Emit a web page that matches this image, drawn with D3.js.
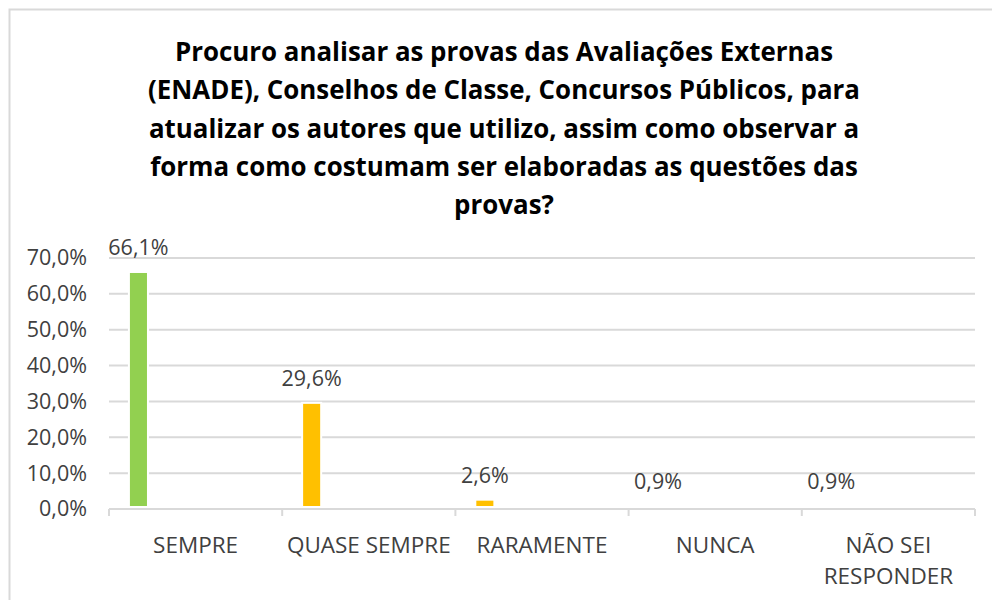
<!DOCTYPE html>
<html>
<head>
<meta charset="utf-8">
<script src="https://cdn.jsdelivr.net/npm/d3@7"></script>
<style>
  body { margin: 0; background: #fff; }
  text { font-family: "Open Sans", "Noto Sans", sans-serif; }
</style>
</head>
<body>
<div id="chart"></div>
<script>
// chart data
const titleLines = [
    "Procuro analisar as provas das Avaliações Externas",
    "(ENADE), Conselhos de Classe, Concursos Públicos, para",
    "atualizar os autores que utilizo, assim como observar a",
    "forma como costumam ser elaboradas as questões das",
    "provas?"
];
const categories = ["SEMPRE", "QUASE SEMPRE", "RARAMENTE", "NUNCA", "NÃO SEI RESPONDER"];
const categoryLines = [["SEMPRE"], ["QUASE SEMPRE"], ["RARAMENTE"], ["NUNCA"], ["NÃO SEI", "RESPONDER"]];
const values = [66.1, 29.6, 2.6, 0.9, 0.9];
const valueLabels = ["66,1%", "29,6%", "2,6%", "0,9%", "0,9%"];
const barColors = ["#92D050", "#FFC000", "#FFC000", "#FFFFFF", "#FFFFFF"];
const yTicks = [0, 10, 20, 30, 40, 50, 60, 70];

const W = 992, H = 600;
const plot = { left: 109, right: 975, top: 258, bottom: 509 };

const svg = d3.select("#chart").append("svg")
    .attr("width", W)
    .attr("height", H);

// chart border (only top & left visible in the crop)
svg.append("rect")
    .attr("x", 9.5).attr("y", 9.5)
    .attr("width", W + 20).attr("height", H + 20)
    .attr("fill", "#fff")
    .attr("stroke", "#d9d9d9")
    .attr("stroke-width", 2);

// title
svg.append("text")
    .attr("text-anchor", "middle")
    .attr("font-weight", "bold")
    .attr("font-size", 25.9)
    .attr("fill", "#000")
    .selectAll("tspan")
    .data(titleLines)
    .join("tspan")
    .attr("x", 504)
    .attr("y", (d, i) => 61 + i * 38.3)
    .text(d => d);

const x = d3.scaleBand()
    .domain(categories)
    .range([plot.left, plot.right]);

const y = d3.scaleLinear()
    .domain([0, 70])
    .range([plot.bottom, plot.top]);

// gridlines
svg.append("g")
    .selectAll("line")
    .data(yTicks.filter(d => d > 0))
    .join("line")
    .attr("x1", plot.left).attr("x2", plot.right)
    .attr("y1", d => y(d)).attr("y2", d => y(d))
    .attr("stroke", "#d9d9d9")
    .attr("stroke-width", 2);

// y axis labels
const yAxis = d3.axisLeft(y)
    .tickValues(yTicks)
    .tickSize(0)
    .tickPadding(22)
    .tickFormat(d => d3.format(".1f")(d).replace(".", ",") + "%");

svg.append("g")
    .attr("transform", `translate(${plot.left},0)`)
    .call(yAxis)
    .call(g => g.select(".domain").remove())
    .call(g => g.selectAll("text")
        .attr("font-size", 21.5)
        .attr("fill", "#404040")
        .attr("font-family", "'Open Sans', sans-serif"));

// x axis baseline and tick marks
svg.append("line")
    .attr("x1", plot.left).attr("x2", plot.right)
    .attr("y1", plot.bottom).attr("y2", plot.bottom)
    .attr("stroke", "#d9d9d9")
    .attr("stroke-width", 2);

svg.append("g")
    .selectAll("line")
    .data(categories.concat(["end"]))
    .join("line")
    .attr("x1", d => d === "end" ? plot.right : x(d))
    .attr("x2", d => d === "end" ? plot.right : x(d))
    .attr("y1", plot.bottom).attr("y2", plot.bottom + 7)
    .attr("stroke", "#d9d9d9")
    .attr("stroke-width", 2);

// bars sit in the first slot of each category (other series empty)
const barOffset = x.bandwidth() * 0.115;
const barWidth = x.bandwidth() * 0.11;

svg.append("g")
    .selectAll("rect")
    .data(values)
    .join("rect")
    .attr("x", (d, i) => x(categories[i]) + barOffset)
    .attr("y", d => y(d))
    .attr("width", barWidth)
    .attr("height", d => y(0) - y(d) - 2)
    .attr("fill", (d, i) => barColors[i])
    .attr("stroke", "#fff")
    .attr("stroke-width", 2);

// value labels
svg.append("g")
    .selectAll("text")
    .data(values)
    .join("text")
    .attr("x", (d, i) => x(categories[i]) + barOffset + barWidth / 2)
    .attr("y", d => y(d) - 17)
    .attr("text-anchor", "middle")
    .attr("font-size", 21.5)
    .attr("fill", "#404040")
    .text((d, i) => valueLabels[i]);

// category labels
svg.append("g")
    .selectAll("text")
    .data(categoryLines)
    .join("text")
    .attr("text-anchor", "middle")
    .attr("font-size", 22.5)
    .attr("fill", "#404040")
    .each(function(lines, i) {
        d3.select(this).selectAll("tspan")
            .data(lines)
            .join("tspan")
            .attr("x", x(categories[i]) + x.bandwidth() / 2)
            .attr("y", (d, j) => 553 + j * 31)
            .text(d => d);
    });
</script>
</body>
</html>
